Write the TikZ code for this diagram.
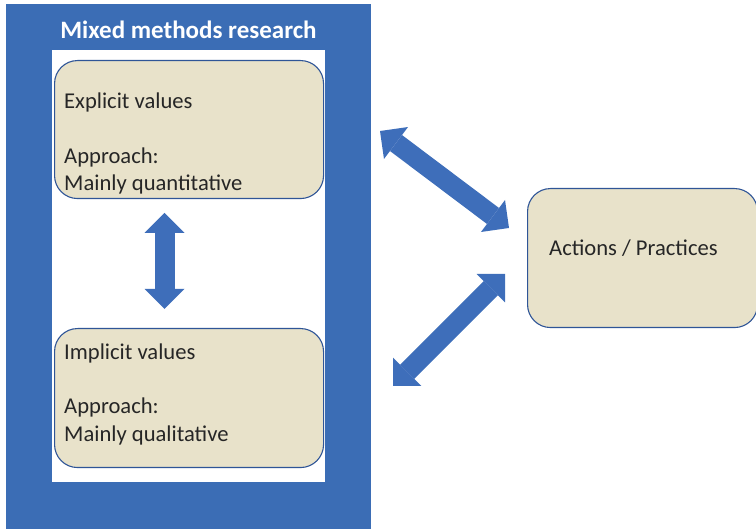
\documentclass[tikz,border=0pt]{standalone}
\usepackage{fontspec}
\setmainfont{Carlito}
\usetikzlibrary{arrows.meta,calc}
\definecolor{frameblue}{RGB}{59,109,181}
\definecolor{boxfill}{RGB}{232,226,202}
\definecolor{boxline}{RGB}{47,85,151}
\definecolor{arrowblue}{RGB}{62,110,186}
\definecolor{textdark}{RGB}{38,38,38}
\begin{document}
\begin{tikzpicture}[x=1pt,y=-1pt,
  valbox/.style={draw=boxline, line width=1.1pt, fill=boxfill, rounded corners=23pt, inner sep=0pt, anchor=north west},
  bodytxt/.style={font=\fontsize{22.6}{27}\selectfont, text=textdark, inner sep=0pt, anchor=base west},
  titletxt/.style={font=\fontsize{25}{30}\selectfont\bfseries, text=white, inner sep=0pt, anchor=base},
  blocktip/.tip={Triangle[width=40pt,length=20pt,line width=0pt]},
  blockarrow/.style={draw=arrowblue, line width=20pt, blocktip-blocktip}]
\useasboundingbox (0,0) rectangle (756,529);
% frame
\node[fill=frameblue, inner sep=0pt, minimum width=365pt, minimum height=527pt, anchor=north west] (frame) at (6,4) {};
\node[fill=white, inner sep=0pt, minimum width=273pt, minimum height=432pt, anchor=north west] (inner) at (52,50) {};
\node[titletxt] (title) at (188.5,39) {Mixed methods research};
% boxes
\node[valbox, minimum width=269pt, minimum height=138pt] (explicit) at (54,60) {};
\node[valbox, minimum width=269pt, minimum height=139pt] (implicit) at (54,328) {};
\node[valbox, minimum width=230pt, minimum height=139pt] (actions) at (527,188) {};
% texts
\node[bodytxt] (e1) at (64,109) {Explicit values};
\node[bodytxt] (e2) at (64,164) {Approach:};
\node[bodytxt] (e3) at (64,191) {Mainly quantitative};
\node[bodytxt] (i1) at (64,360) {Implicit values};
\node[bodytxt] (i2) at (64,414) {Approach:};
\node[bodytxt] (i3) at (64,442) {Mainly qualitative};
\node[bodytxt] (a1) at (549,256) {Actions / Practices};
% arrow end points
\coordinate (v1) at (164.5,213);
\coordinate (v2) at (164.5,309);
\coordinate (d1) at (380,131);
\coordinate (d2) at (509,228);
\coordinate (d3) at (393,386);
\coordinate (d4) at (505,274);
\draw[blockarrow] (v1) -- (v2);
\draw[blockarrow] (d1) -- (d2);
\draw[blockarrow] (d3) -- (d4);
\end{tikzpicture}
\end{document}
